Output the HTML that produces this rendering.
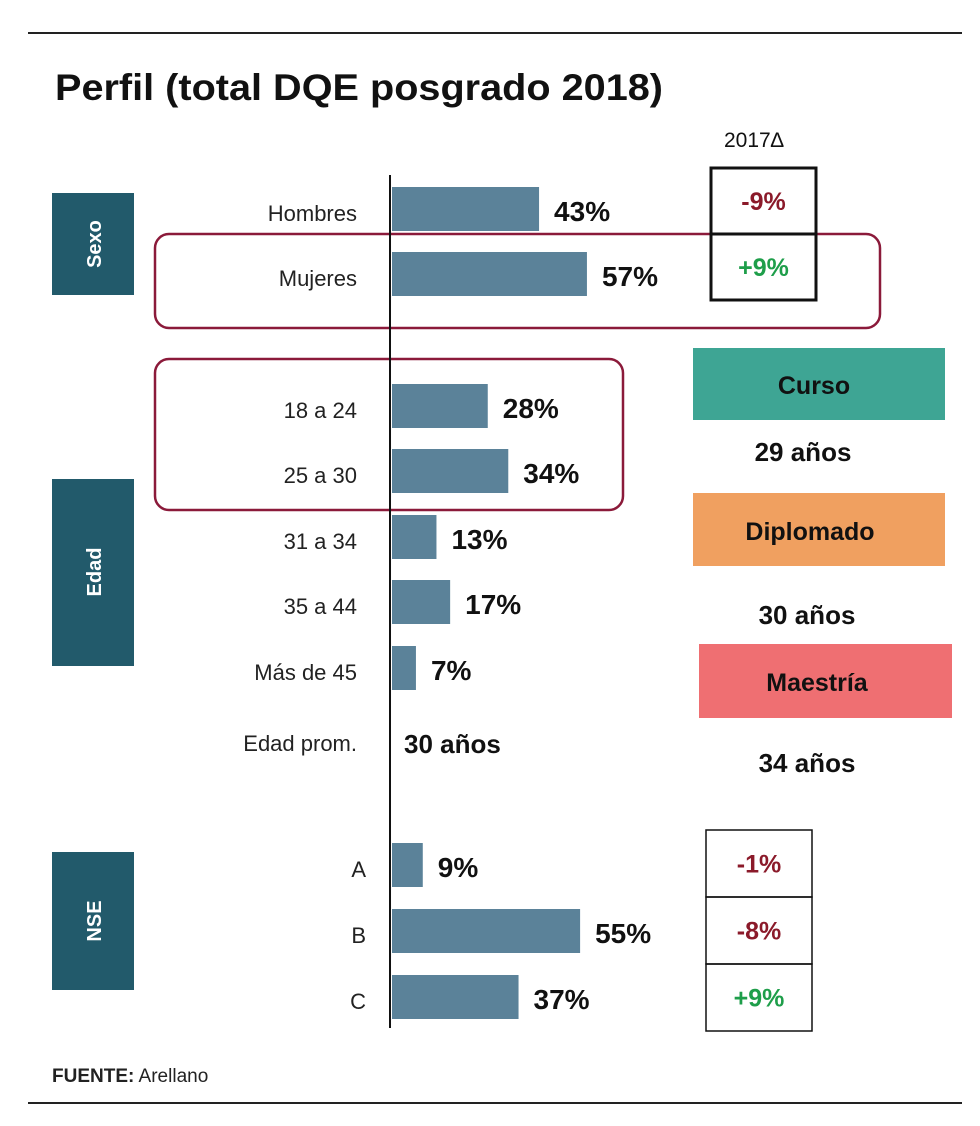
<!DOCTYPE html>
<html><head><meta charset="utf-8"><style>
html,body{margin:0;padding:0;background:#fff;}
svg{display:block;font-family:"Liberation Sans",sans-serif;}
</style></head><body>
<svg id="chart" width="980" height="1126" viewBox="0 0 980 1126">
<line x1="28" y1="33" x2="962" y2="33" stroke="#222" stroke-width="2"/>
<line x1="28" y1="1103" x2="962" y2="1103" stroke="#222" stroke-width="2"/>
<text x="55" y="100" font-size="37" font-weight="bold" fill="#111" textLength="608" lengthAdjust="spacingAndGlyphs">Perfil (total DQE posgrado 2018)</text>
<text x="724" y="147" font-size="21" fill="#111">2017∆</text>

<rect x="52" y="193" width="82" height="102" fill="#225a6b"/>
<text transform="translate(101,244) rotate(-90)" text-anchor="middle" font-size="20" font-weight="bold" fill="#fff">Sexo</text>
<rect x="52" y="479" width="82" height="187" fill="#225a6b"/>
<text transform="translate(101,572) rotate(-90)" text-anchor="middle" font-size="20" font-weight="bold" fill="#fff">Edad</text>
<rect x="52" y="852" width="82" height="138" fill="#225a6b"/>
<text transform="translate(101,921) rotate(-90)" text-anchor="middle" font-size="20" font-weight="bold" fill="#fff">NSE</text>

<rect x="155" y="234" width="725" height="94" rx="14" fill="none" stroke="#8b1a3a" stroke-width="2.5"/>
<rect x="155" y="359" width="468" height="151" rx="14" fill="none" stroke="#8b1a3a" stroke-width="2.5"/>

<g id="bars"></g>
<line x1="390" y1="175" x2="390" y2="1028" stroke="#111" stroke-width="2"/>

<text x="357" y="751" text-anchor="end" font-size="22" fill="#222">Edad prom.</text>
<text x="404" y="753" font-size="26" font-weight="bold" fill="#111">30 años</text>

<g id="delta"></g>

<rect x="693" y="348" width="252" height="72" fill="#3ea594"/>
<text x="814" y="394" text-anchor="middle" font-size="25" font-weight="bold" fill="#111">Curso</text>
<text x="803" y="461" text-anchor="middle" font-size="26" font-weight="bold" fill="#111">29 años</text>
<rect x="693" y="493" width="252" height="73" fill="#f0a060"/>
<text x="810" y="540" text-anchor="middle" font-size="25" font-weight="bold" fill="#111">Diplomado</text>
<text x="807" y="624" text-anchor="middle" font-size="26" font-weight="bold" fill="#111">30 años</text>
<rect x="699" y="644" width="253" height="74" fill="#ef6f72"/>
<text x="817" y="691" text-anchor="middle" font-size="25" font-weight="bold" fill="#111">Maestría</text>
<text x="807" y="772" text-anchor="middle" font-size="26" font-weight="bold" fill="#111">34 años</text>

<text x="52" y="1082" font-size="19" fill="#222"><tspan font-weight="bold">FUENTE:</tspan> Arellano</text>
</svg>
<script>
const categories = ["Hombres","Mujeres","18 a 24","25 a 30","31 a 34","35 a 44","Más de 45","A","B","C"];
const values = [43,57,28,34,13,17,7,9,55,37];
const barTops = [187,252,384,449,515,580,646,843,909,975];
const deltaLabels = ["-9%","+9%","-1%","-8%","+9%"];
const NS="http://www.w3.org/2000/svg";
const x0=392, pxPerPct=3.42, barH=44;
function xScale(v){return x0+v*pxPerPct;}
const g=document.getElementById('bars');
categories.forEach((c,i)=>{
  const y=barTops[i];
  const r=document.createElementNS(NS,'rect');
  r.setAttribute('x',x0);r.setAttribute('y',y);
  r.setAttribute('width',xScale(values[i])-x0);r.setAttribute('height',barH);
  r.setAttribute('fill','#5b8299');
  
  
  g.appendChild(r);
  const t=document.createElementNS(NS,'text');
  t.setAttribute('x', i>=7?366:357);t.setAttribute('y',y+34);
  t.setAttribute('text-anchor','end');t.setAttribute('font-size','22');t.setAttribute('fill','#222');
  t.textContent=c;
  
  
  g.appendChild(t);
  const v=document.createElementNS(NS,'text');
  v.setAttribute('x',xScale(values[i])+15);v.setAttribute('y',y+34);
  v.setAttribute('font-size','28');v.setAttribute('font-weight','bold');v.setAttribute('fill','#111');
  v.textContent=values[i]+'%';
  
  
  g.appendChild(v);
});
const d=document.getElementById('delta');
const cells=[[711,168,105,66,3],[711,234,105,66,3],[706,830,106,67,1.5],[706,897,106,67,1.5],[706,964,106,67,1.5]];
cells.forEach((c,i)=>{
  const r=document.createElementNS(NS,'rect');
  r.setAttribute('x',c[0]);r.setAttribute('y',c[1]);r.setAttribute('width',c[2]);r.setAttribute('height',c[3]);
  r.setAttribute('fill','none');r.setAttribute('stroke','#111');r.setAttribute('stroke-width',c[4]);
  
  
  d.appendChild(r);
  const t=document.createElementNS(NS,'text');
  t.setAttribute('x',c[0]+c[2]/2);t.setAttribute('y',c[1]+c[3]/2+9);
  t.setAttribute('text-anchor','middle');t.setAttribute('font-size','25');t.setAttribute('font-weight','bold');
  t.setAttribute('fill',deltaLabels[i][0]==='+'?'#1e9e4a':'#8b1a2a');
  t.textContent=deltaLabels[i];
  
  
  d.appendChild(t);
});
</script>
</body></html>
